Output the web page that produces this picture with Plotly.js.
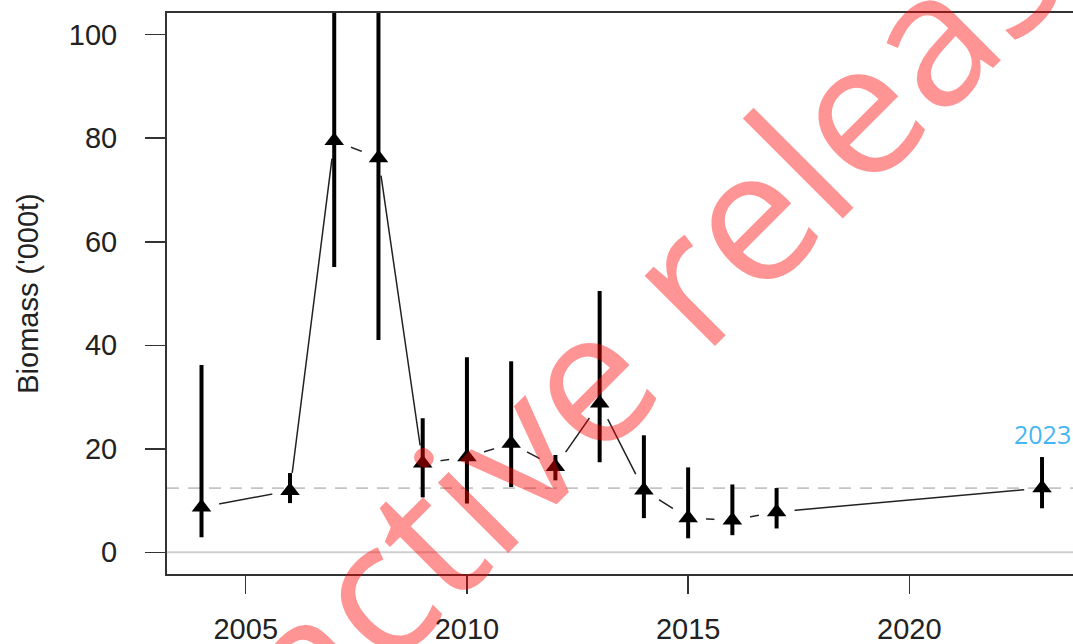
<!DOCTYPE html>
<html>
<head>
<meta charset="utf-8">
<script src="https://cdn.plot.ly/plotly-3.0.1.min.js"></script>
<style>html,body{margin:0;padding:0;background:#fff;}#chart{width:1073px;height:644px;}</style>
</head>
<body>
<div id="chart"></div>
<script>
// Survey years and biomass estimates ('000 t)
const years   = [2004, 2006, 2007, 2008, 2009, 2010, 2011, 2012, 2013, 2014, 2015, 2016, 2017, 2023];
const biomass = [8.7, 11.9, 79.5, 76.2, 17.2, 18.4, 21.0, 16.5, 28.8, 12.0, 6.6, 6.2, 7.8, 12.4];
const upper   = [36.2, 15.3, 115, 141, 25.9, 37.7, 36.9, 18.8, 50.5, 22.6, 16.4, 13.1, 12.4, 18.4];
const lower   = [2.9, 9.5, 55.1, 41.0, 10.6, 9.4, 12.6, 13.9, 17.4, 6.6, 2.7, 3.3, 4.6, 8.5];
const refLevel = 12.4;          // dashed reference line
const yTicks = [0, 20, 40, 60, 80, 100];
const xTicks = [2005, 2010, 2015, 2020];
const latestLabel = "2023";
const watermark = "Inactive release";

const xRange = [2003.22, 2023.70];
const yRange = [-4.2, 104.2];

const errPlus  = upper.map((u, i) => u - biomass[i]);
const errMinus = biomass.map((b, i) => b - lower[i]);

const traces = [
  { // connecting line
    x: years, y: biomass, type: 'scatter', mode: 'lines',
    line: {color: '#222', width: 1.5}, hoverinfo: 'skip', showlegend: false
  },
  { // white gaps around points (R type = "b")
    x: years, y: biomass, type: 'scatter', mode: 'markers',
    marker: {symbol: 'circle', size: 36, color: '#fff', line: {width: 0}},
    hoverinfo: 'skip', showlegend: false
  },
  { // reference dashed line
    x: xRange, y: [refLevel, refLevel], type: 'scatter', mode: 'lines',
    line: {color: '#c4c4c4', width: 1.8, dash: '12px,9px'}, hoverinfo: 'skip', showlegend: false
  },
  { // estimates with intervals
    x: years, y: biomass, type: 'scatter', mode: 'markers',
    marker: {symbol: 'triangle-up', size: 17, color: '#000'},
    error_y: {type: 'data', symmetric: false, array: errPlus, arrayminus: errMinus,
              color: '#000', thickness: 4, width: 0},
    showlegend: false
  }
];

const tickFont = {family: 'Liberation Sans, Arial, sans-serif', size: 29, color: '#222'};

const layout = {
  width: 1073, height: 644,
  margin: {l: 167, r: 0, t: 13, b: 70, pad: 0},
  paper_bgcolor: '#fff', plot_bgcolor: '#fff',
  showlegend: false,
  xaxis: {
    range: xRange, tickmode: 'array', tickvals: xTicks, ticktext: xTicks.map(String),
    ticks: 'outside', ticklen: 18, tickwidth: 1.5, tickcolor: '#333',
    showline: true, linecolor: '#333', linewidth: 2, mirror: true,
    showgrid: false, zeroline: false, tickfont: tickFont, ticklabelstandoff: 10
  },
  yaxis: {
    range: yRange, tickmode: 'array', tickvals: yTicks, ticktext: yTicks.map(String),
    ticks: 'outside', ticklen: 20, tickwidth: 1.5, tickcolor: '#333',
    showline: true, linecolor: '#333', linewidth: 2, mirror: false,
    showgrid: false, zeroline: false, tickfont: tickFont, ticklabelstandoff: 22,
    title: {text: "Biomass ('000t)", font: {family: 'Liberation Sans, Arial, sans-serif', size: 29, color: '#222'}, standoff: 22}
  },
  shapes: [
    {type: 'line', xref: 'paper', x0: 0, x1: 1, yref: 'y', y0: 0, y1: 0,
     line: {color: '#cfcfcf', width: 2}, layer: 'below'}
  ],
  annotations: [
    {x: years[years.length - 1], y: upper[upper.length - 1], xref: 'x', yref: 'y',
     text: latestLabel, showarrow: false, xanchor: 'center', yanchor: 'middle', yshift: 23,
     font: {family: 'Open Sans, sans-serif', size: 25, color: '#45b6f2'}},
    {x: 0.501, y: 0.422, xref: 'paper', yref: 'paper', text: watermark, showarrow: false,
     xanchor: 'center', yanchor: 'middle', textangle: -45,
     font: {family: 'Open Sans, sans-serif', size: 186, color: 'rgba(255,0,0,0.42)'}}
  ]
};

Plotly.newPlot('chart', traces, layout, {displayModeBar: false, staticPlot: true});
</script>
</body>
</html>
